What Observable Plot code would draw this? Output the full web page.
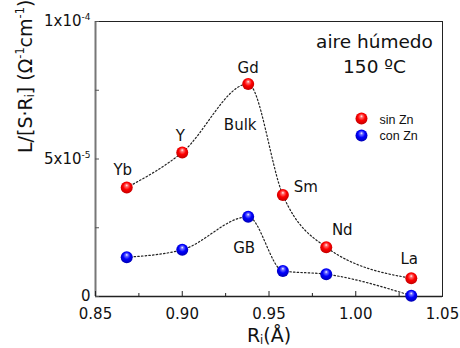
<!DOCTYPE html>
<html><head><meta charset="utf-8">
<script src="https://cdn.jsdelivr.net/npm/d3@7"></script>
<script src="https://cdn.jsdelivr.net/npm/@observablehq/plot@0.6"></script>
<style>body{margin:0;background:#fff}</style>
</head><body><div id="chart"></div>
<script>
// ---- data ----
const elements = ["Yb", "Y", "Gd", "Sm", "Nd", "La"];
const radius = [0.868, 0.900, 0.938, 0.958, 0.983, 1.032];
const sinZn = [3.96e-5, 5.24e-5, 7.73e-5, 3.69e-5, 1.79e-5, 0.66e-5];
const conZn = [1.43e-5, 1.70e-5, 2.90e-5, 0.93e-5, 0.81e-5, 0.03e-5];
const seriesNames = ["sin Zn", "con Zn"];
const xTicks = [0.85, 0.90, 0.95, 1.00, 1.05];
const xMinor = [0.875, 0.925, 0.975, 1.025];
const yTicks = [0, 5e-5, 1e-4];
const yTickLabels = ["0", "5x10^{-5}", "1x10^{-4}"];
const yMinor = [2.5e-5, 7.5e-5];
const titleLines = ["aire húmedo", "150 ºC"];
const groupLabels = ["Bulk", "GB"];
const xLabel = "R_{i}(Å)";
const yLabel = "L/[S·R_{i}] (Ω^{-1}cm^{-1})";

// ---- layout ----
const W = 460, H = 348, mL = 95, mR = 18, mT = 21, mB = 52;
const plotW = W - mL - mR, plotH = H - mT - mB;
const idx = d3.range(elements.length);
const font = "DejaVu Sans";

// element label offsets (px) relative to the red point
const lblOff = [[-4, -13], [-2, -11], [0, -11], [23, -3], [16, -12], [-2, -14]];

const marks = [
  Plot.frame({stroke: "#222", strokeWidth: 1}),
  Plot.ruleX([0.85], {stroke: "#777", strokeWidth: 2}),
  Plot.ruleY([0], {stroke: "#222", strokeWidth: 1.5}),
  // ticks (inward)
  Plot.ruleX(xTicks, {insetTop: plotH - 5, stroke: "#222"}),
  Plot.ruleX(xMinor, {insetTop: plotH - 3, stroke: "#222"}),
  Plot.ruleY(yTicks, {insetRight: plotW - 4, stroke: "#555"}),
  Plot.ruleY(yMinor, {insetRight: plotW - 4, stroke: "#555"}),
  Plot.axisX({ticks: xTicks, tickSize: 0, tickPadding: 12, tickFormat: d3.format(".2f"),
    fontSize: 15, label: null, color: "#111"}),
  Plot.axisY({ticks: yTicks, tickSize: 0, tickPadding: 5,
    tickFormat: d => yTickLabels[yTicks.indexOf(d)], fontSize: 15, label: null, color: "#111"}),
  // axis labels
  Plot.text([xLabel], {frameAnchor: "bottom", dy: 45, lineAnchor: "bottom", fontSize: 19, fill: "#111"}),
  Plot.text([yLabel], {frameAnchor: "left", dx: -70, dy: -6, rotate: -90, fontSize: 19, fill: "#111"}),
  // dotted guide lines
  Plot.line(idx, {x: i => radius[i], y: i => sinZn[i], curve: "monotone-x",
    stroke: "#222", strokeWidth: 1.2, strokeDasharray: "1.5,2.2"}),
  Plot.line(idx, {x: i => radius[i], y: i => conZn[i], curve: "monotone-x",
    stroke: "#222", strokeWidth: 1.2, strokeDasharray: "1.5,2.2"}),
  // points
  Plot.dot(idx, {x: i => radius[i], y: i => sinZn[i], r: 6, fill: "url(#gRed)"}),
  Plot.dot(idx, {x: i => radius[i], y: i => conZn[i], r: 6, fill: "url(#gBlue)"}),
  // element labels
  ...idx.map(i => Plot.text([i], {x: i => radius[i], y: i => sinZn[i], text: i => elements[i],
    dx: lblOff[i][0], dy: lblOff[i][1], lineAnchor: "bottom", fontSize: 15, fill: "#111"})),
  Plot.text([2], {x: i => radius[i], y: i => sinZn[i], text: () => groupLabels[0],
    dx: -8, dy: 46, lineAnchor: "bottom", fontSize: 15, fill: "#111"}),
  Plot.text([2], {x: i => radius[i], y: i => conZn[i], text: () => groupLabels[1],
    dx: -4, dy: 36, lineAnchor: "bottom", fontSize: 15, fill: "#111"}),
  // title
  Plot.text([titleLines[0]], {frameAnchor: "top-right", dx: -68, dy: 26, textAnchor: "middle",
    lineAnchor: "bottom", fontSize: 18.5, fill: "#111"}),
  Plot.text([titleLines[1]], {frameAnchor: "top-right", dx: -68, dy: 51, textAnchor: "middle",
    lineAnchor: "bottom", fontSize: 18.5, fill: "#111"}),
  // legend
  Plot.dot([0], {frameAnchor: "top-right", dx: -81, dy: 97, r: 6, fill: "url(#gRed)"}),
  Plot.dot([0], {frameAnchor: "top-right", dx: -81, dy: 114, r: 6, fill: "url(#gBlue)"}),
  Plot.text([seriesNames[0]], {frameAnchor: "top-right", dx: -63, dy: 102, textAnchor: "start",
    lineAnchor: "bottom", fontSize: 12.5, fontFamily: "Liberation Sans", fill: "#111"}),
  Plot.text([seriesNames[1]], {frameAnchor: "top-right", dx: -63, dy: 118, textAnchor: "start",
    lineAnchor: "bottom", fontSize: 12.5, fontFamily: "Liberation Sans", fill: "#111"})
];

const svg = Plot.plot({
  width: W, height: H,
  marginLeft: mL, marginRight: mR, marginTop: mT, marginBottom: mB,
  style: {fontFamily: font, background: "#fff", color: "#111"},
  x: {domain: [0.85, 1.05]},
  y: {domain: [0, 1e-4]},
  marks
});

// gradients for shaded spheres
const defs = d3.select(svg).insert("defs", ":first-child");
function grad(id, light, main, dark) {
  const g = defs.append("radialGradient").attr("id", id)
    .attr("cx", "0.5").attr("cy", "0.45").attr("r", "0.6").attr("fx", "0.5").attr("fy", "0.3");
  g.append("stop").attr("offset", "0").attr("stop-color", "#ffffff");
  g.append("stop").attr("offset", "0.18").attr("stop-color", light);
  g.append("stop").attr("offset", "0.5").attr("stop-color", main);
  g.append("stop").attr("offset", "1").attr("stop-color", dark);
}
grad("gRed", "#ff7070", "#ff0000", "#b80000");
grad("gBlue", "#7070ff", "#0000ff", "#0000a8");

document.getElementById("chart").appendChild(svg);

// superscripts / subscripts
d3.select(svg).selectAll("text").each(function () {
  const t = this.textContent;
  if (!/[\^_]\{/.test(t)) return;
  const fs = parseFloat(getComputedStyle(this).fontSize) || 15;
  const parts = t.split(/([\^_]\{[^}]*\})/).filter(p => p);
  const el = d3.select(this);
  el.text(null);
  let off = 0;
  parts.forEach(p => {
    const m = p.match(/^([\^_])\{([^}]*)\}$/);
    let target, size, txt;
    if (m) { target = m[1] === "^" ? -0.42 * fs : 0.12 * fs; size = 0.6 * fs; txt = m[2]; }
    else { target = 0; size = fs; txt = p; }
    el.append("tspan").attr("dy", target - off).attr("font-size", size).text(txt);
    off = target;
  });
});
</script>
</body></html>
